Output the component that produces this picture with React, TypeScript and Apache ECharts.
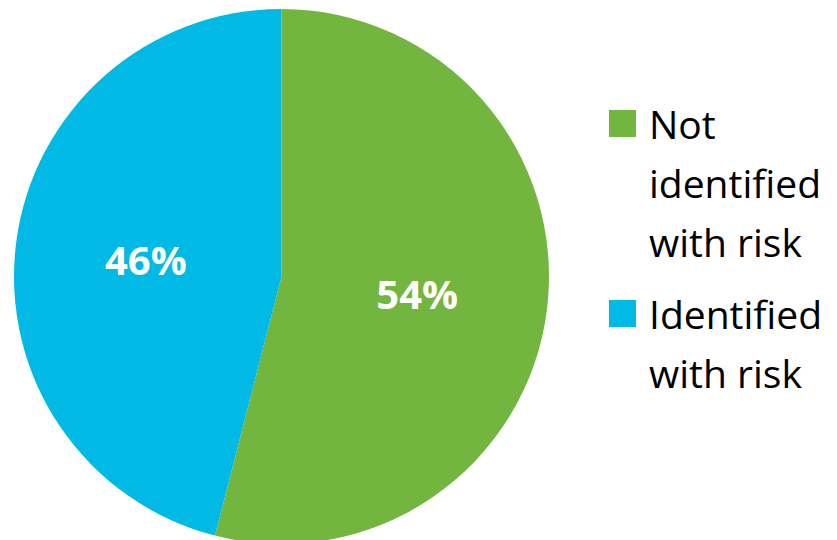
import React, { useEffect, useRef } from "react";
import * as echarts from "echarts";

const categories = ["Not\nidentified\nwith risk", "Identified\nwith risk"];
const values = [54, 46];
const colors = ["#72B53F", "#00B9E4"];

export default function App() {
  const ref = useRef<HTMLDivElement>(null);
  useEffect(() => {
    document.body.style.margin = "0";
    const chart = echarts.init(ref.current!, null, { renderer: "svg" });
    chart.setOption({
      animation: false,
      color: colors,
      legend: {
        orient: "vertical",
        left: 609,
        top: -24,
        padding: 0,
        itemGap: -46,
        itemWidth: 27,
        itemHeight: 27,
        icon: "rect",
        selectedMode: false,
        formatter: (name: string) => {
          const n = name.split("\n").length;
          return "\n".repeat(n - 1) + name;
        },
        textStyle: {
          fontFamily: "Open Sans",
          fontSize: 39,
          lineHeight: 59,
          color: "#000",
          padding: [0, 0, 0, 8],
        },
        data: categories,
      },
      series: [
        {
          type: "pie",
          center: [281.5, 276.5],
          radius: 267.5,
          startAngle: 90,
          clockwise: true,
          label: {
            show: true,
            position: "inside",
            formatter: "{d}%",
            color: "#fff",
            fontFamily: "Open Sans",
            fontWeight: "bold",
            fontSize: 40,
          },
          labelLine: { show: false },
          itemStyle: { borderWidth: 0 },
          emphasis: { disabled: true },
          data: categories.map((c, i) => ({ name: c, value: values[i] })),
        },
      ],
    });
    return () => chart.dispose();
  }, []);
  return <div ref={ref} style={{ width: 837, height: 540 }} />;
}
